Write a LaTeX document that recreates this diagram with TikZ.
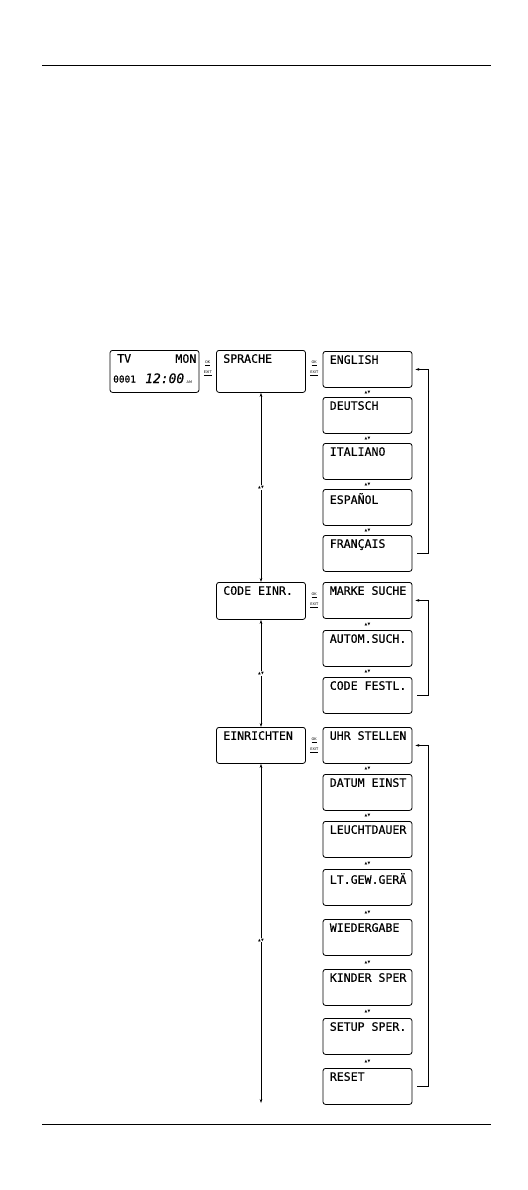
\documentclass[tikz,border=0pt]{standalone}
\usepackage{fontspec}
\newfontfamily\lcdfont[FakeBold=0.5]{DejaVu Sans Mono}
\newfontfamily\symfont{DejaVu Sans}
\usetikzlibrary{calc}
\usetikzlibrary{arrows.meta}

\tikzset{
  lcdbox/.style={draw, rounded corners=2.5bp, line width=0.8bp,
    minimum width=89bp, minimum height=36bp, inner sep=0pt, anchor=north},
  lcdtext/.style={font=\lcdfont\fontsize{11.6}{13}\selectfont,
    inner xsep=7bp, inner ysep=4bp, anchor=north west},
  navmark/.style={font=\symfont\fontsize{3.6}{4}\selectfont, inner sep=0.8bp, fill=white},
  keylbl/.style={font=\symfont\fontsize{3.6}{4}\selectfont, inner sep=0pt},
  link/.style={line width=0.5bp},
}

\begin{document}
\begin{tikzpicture}[x=1bp, y=-1bp, >={Stealth[length=4bp,width=2.6bp]}]
\useasboundingbox (0,0) rectangle (528,1190);

% page rules
\coordinate (rule-tl) at (42,65);
\coordinate (rule-tr) at (491,65);
\coordinate (rule-bl) at (42,1124);
\coordinate (rule-br) at (491,1124);
\draw[line width=1bp] (rule-tl) -- (rule-tr);
\draw[line width=1bp] (rule-bl) -- (rule-br);

%---------------------------------------
% Home display
%---------------------------------------
\node[lcdbox, minimum height=42bp] (home) at (154.5,350) {};
\node[font=\lcdfont\fontsize{11.6}{13}\selectfont, anchor=north west, inner sep=0pt]
  (home-tv) at (117,354) {TV};
\node[font=\lcdfont\fontsize{11.6}{13}\selectfont, anchor=north east, inner sep=0pt]
  (home-mon) at (196.5,354) {MON};
\node[font=\lcdfont\fontsize{9.5}{10}\selectfont, anchor=base west, inner sep=0pt]
  (home-code) at (113,382.5) {0001};
\node[font=\lcdfont\itshape\fontsize{13}{14}\selectfont, anchor=base west, inner sep=0pt]
  (home-time) at (145,383) {12:00};
\node[font=\symfont\fontsize{3.5}{4}\selectfont, anchor=base west, inner sep=0pt]
  (home-am) at (186.5,383) {AM};

%---------------------------------------
% Main menu
%---------------------------------------
\node[lcdbox, minimum height=42bp] (sprache) at (261,350) {};
\node[lcdtext] (sprache-t) at (sprache.north west) {SPRACHE};
\node[lcdbox, minimum height=37bp] (codeeinr) at (261,582) {};
\node[lcdtext] (codeeinr-t) at (codeeinr.north west) {CODE EINR.};
\node[lcdbox, minimum height=36bp] (einrichten) at (261,727) {};
\node[lcdtext] (einrichten-t) at (einrichten.north west) {EINRICHTEN};

%---------------------------------------
% Sub menus
%---------------------------------------
\foreach \nm/\ty/\txt in {english/351/ENGLISH, deutsch/397/DEUTSCH,
    italiano/443/ITALIANO, espanol/489/ESPAÑOL, francais/535/FRANÇAIS,
    marke/582/MARKE SUCHE, autom/630/AUTOM.SUCH., festl/677/CODE FESTL.,
    uhr/727/UHR STELLEN, datum/774/DATUM EINST, leucht/821/LEUCHTDAUER,
    ltgew/869/LT.GEW.GERÄ, wieder/919/WIEDERGABE, kinder/969/KINDER SPER,
    setup/1018/SETUP SPER., reset/1068/RESET}{
  \node[lcdbox] (\nm) at (367.5,\ty) {};
  \node[lcdtext] (\nm-t) at (\nm.north west) {\txt};
}

% up/down marks between sub menu entries
\foreach \a/\b in {english/deutsch, deutsch/italiano, italiano/espanol,
    espanol/francais, marke/autom, autom/festl, uhr/datum, datum/leucht,
    leucht/ltgew, ltgew/wieder, wieder/kinder, kinder/setup, setup/reset}{
  \node[navmark] (nav-\a) at ($(\a.south)!0.5!(\b.north)$) {▲▼};
}

% OK / EXIT keys
\foreach \l/\r/\k in {home/sprache/a, sprache/english/b,
    codeeinr/marke/c, einrichten/uhr/d}{
  \node[keylbl] (ok-\k) at ($(\l.north east)!0.5!(\r.north west)+(0,13)$) {\underline{OK}};
  \node[keylbl] (exit-\k) at ($(\l.north east)!0.5!(\r.north west)+(0,23)$) {\underline{EXIT}};
}

%---------------------------------------
% Navigation
%---------------------------------------
\coordinate (setup-end) at (261,1103);
\draw[link,<->] (sprache.south) -- node[navmark] (nav-main1) {▲▼} (codeeinr.north);
\draw[link,<->] (codeeinr.south) -- node[navmark] (nav-main2) {▲▼} (einrichten.north);
\draw[link,<->] (einrichten.south) -- node[navmark, pos=0.52] (nav-main3) {▲▼} (setup-end);

% wrap-around
\draw[link,->,shorten <=5bp,shorten >=3bp] (francais.east) -- ++(16,0) |- (english.east);
\draw[link,->,shorten <=5bp,shorten >=3bp] (festl.east) -- ++(16,0) |- (marke.east);
\draw[link,->,shorten <=5bp,shorten >=3bp] (reset.east) -- ++(16,0) |- (uhr.east);

\end{tikzpicture}
\end{document}
